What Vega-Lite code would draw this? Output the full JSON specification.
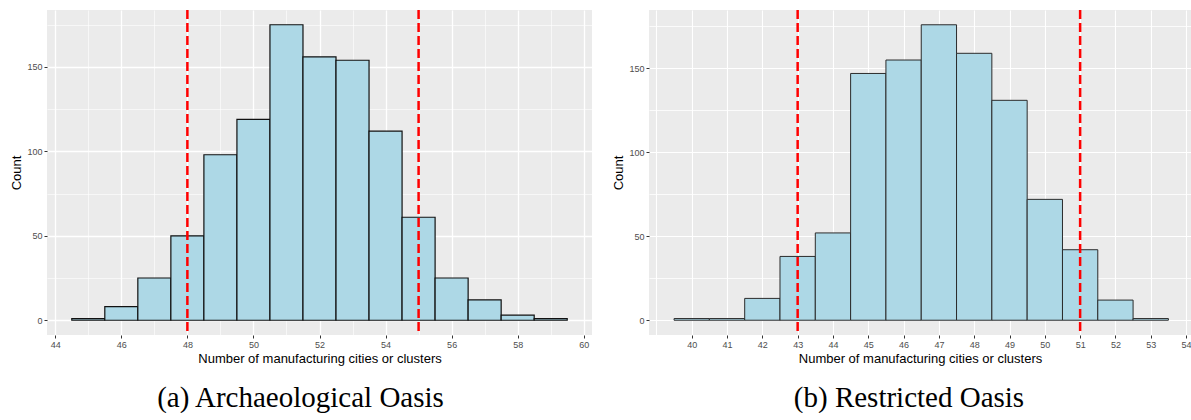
{
  "$schema": "https://vega.github.io/schema/vega-lite/v6.json",
  "background": "white",
  "padding": {"left": 10, "top": 8, "right": 0, "bottom": 0},
  "spacing": 20,
  "config": {
    "view": {"stroke": null, "fill": "#EBEBEB"},
    "axis": {
      "domain": false,
      "gridColor": "#FFFFFF",
      "tickColor": "#333333",
      "tickSize": 3,
      "labelColor": "#4D4D4D",
      "labelFont": "Liberation Sans",
      "labelFontSize": 9,
      "labelPadding": 2,
      "labelOverlap": false,
      "labelFlush": false,
      "titleFont": "Liberation Sans",
      "titleFontSize": 13,
      "titleFontWeight": "normal",
      "titleColor": "#000000"
    },
    "title": {"font": "Liberation Serif", "fontSize": 29, "fontWeight": "normal", "color": "#000000"}
  },
  "datasets": {
    "a": [
      {"lo": 44.5, "hi": 45.5, "count": 1},
      {"lo": 45.5, "hi": 46.5, "count": 8},
      {"lo": 46.5, "hi": 47.5, "count": 25},
      {"lo": 47.5, "hi": 48.5, "count": 50},
      {"lo": 48.5, "hi": 49.5, "count": 98},
      {"lo": 49.5, "hi": 50.5, "count": 119},
      {"lo": 50.5, "hi": 51.5, "count": 175},
      {"lo": 51.5, "hi": 52.5, "count": 156},
      {"lo": 52.5, "hi": 53.5, "count": 154},
      {"lo": 53.5, "hi": 54.5, "count": 112},
      {"lo": 54.5, "hi": 55.5, "count": 61},
      {"lo": 55.5, "hi": 56.5, "count": 25},
      {"lo": 56.5, "hi": 57.5, "count": 12},
      {"lo": 57.5, "hi": 58.5, "count": 3},
      {"lo": 58.5, "hi": 59.5, "count": 1}
    ],
    "b": [
      {"lo": 39.5, "hi": 40.5, "count": 1},
      {"lo": 40.5, "hi": 41.5, "count": 1},
      {"lo": 41.5, "hi": 42.5, "count": 13},
      {"lo": 42.5, "hi": 43.5, "count": 38},
      {"lo": 43.5, "hi": 44.5, "count": 52},
      {"lo": 44.5, "hi": 45.5, "count": 147},
      {"lo": 45.5, "hi": 46.5, "count": 155},
      {"lo": 46.5, "hi": 47.5, "count": 176},
      {"lo": 47.5, "hi": 48.5, "count": 159},
      {"lo": 48.5, "hi": 49.5, "count": 131},
      {"lo": 49.5, "hi": 50.5, "count": 72},
      {"lo": 50.5, "hi": 51.5, "count": 42},
      {"lo": 51.5, "hi": 52.5, "count": 12},
      {"lo": 52.5, "hi": 53.5, "count": 1}
    ],
    "ra": [{"v": 48}, {"v": 55}],
    "rb": [{"v": 43}, {"v": 51}]
  },
  "hconcat": [
    {
      "width": 545,
      "height": 325,
      "title": {"text": "(a) Archaeological Oasis", "orient": "bottom", "offset": 19, "frame": "group", "dx": -19},
      "layer": [
        {
          "data": {"name": "a"},
          "mark": {"type": "rect", "fill": "#ADD8E6", "stroke": "#111111", "strokeWidth": 1.2},
          "encoding": {
            "x": {
              "field": "lo", "type": "quantitative",
              "scale": {"domain": [43.75, 60.25], "nice": false, "zero": false},
              "axis": {
                "title": "Number of manufacturing cities or clusters",
                "titlePadding": 3,
                "format": "d",
                "labelOverlap": false,
                "tickCount": 100,
                "values": [44,45,46,47,48,49,50,51,52,53,54,55,56,57,58,59,60],
                "labelExpr": "datum.value % 2 === 0 ? datum.label : ' '",
                "gridWidth": {"condition": {"test": "datum.value % 2 === 0", "value": 1.3}, "value": 0.6},
                "tickOpacity": {"condition": {"test": "datum.value % 2 === 0", "value": 1}, "value": 0}
              }
            },
            "x2": {"field": "hi"},
            "y": {
              "field": "count", "type": "quantitative",
              "scale": {"domain": [-8.75, 183.75], "nice": false, "zero": false},
              "axis": {
                "title": "Count",
                "titlePadding": 3,
                "format": "d",
                "labelOverlap": false,
                "tickCount": 100,
                "values": [0,25,50,75,100,125,150,175],
                "labelExpr": "datum.value % 50 === 0 ? datum.label : ' '",
                "gridWidth": {"condition": {"test": "datum.value % 50 === 0", "value": 1.3}, "value": 0.6},
                "tickOpacity": {"condition": {"test": "datum.value % 50 === 0", "value": 1}, "value": 0}
              }
            },
            "y2": {"datum": 0}
          }
        },
        {
          "data": {"name": "ra"},
          "mark": {"type": "rule", "color": "#FF0000", "strokeWidth": 2.5, "strokeDash": [9, 4]},
          "encoding": {"x": {"field": "v", "type": "quantitative"}}
        }
      ]
    },
    {
      "width": 542,
      "height": 325,
      "title": {"text": "(b) Restricted Oasis", "orient": "bottom", "offset": 19, "frame": "group", "dx": -11},
      "layer": [
        {
          "data": {"name": "b"},
          "mark": {"type": "rect", "fill": "#ADD8E6", "stroke": "#2B2B2B", "strokeWidth": 1},
          "encoding": {
            "x": {
              "field": "lo", "type": "quantitative",
              "scale": {"domain": [38.79, 54.14], "nice": false, "zero": false},
              "axis": {
                "title": "Number of manufacturing cities or clusters",
                "titlePadding": 3,
                "format": "d",
                "labelOverlap": false,
                "tickCount": 100,
                "values": [39,39.5,40,40.5,41,41.5,42,42.5,43,43.5,44,44.5,45,45.5,46,46.5,47,47.5,48,48.5,49,49.5,50,50.5,51,51.5,52,52.5,53,53.5,54],
                "labelExpr": "datum.value % 1 === 0 && datum.value >= 40 ? datum.label : ' '",
                "gridWidth": {"condition": {"test": "datum.value % 1 === 0", "value": 1.1}, "value": 0.8},
                "tickOpacity": {"condition": {"test": "datum.value % 1 === 0 && datum.value >= 40", "value": 1}, "value": 0}
              }
            },
            "x2": {"field": "hi"},
            "y": {
              "field": "count", "type": "quantitative",
              "scale": {"domain": [-8.8, 184.8], "nice": false, "zero": false},
              "axis": {
                "title": "Count",
                "titlePadding": 3,
                "format": "d",
                "labelOverlap": false,
                "tickCount": 100,
                "values": [0,25,50,75,100,125,150,175],
                "labelExpr": "datum.value % 50 === 0 ? datum.label : ' '",
                "gridWidth": {"condition": {"test": "datum.value % 50 === 0", "value": 1.1}, "value": 0.8},
                "tickOpacity": {"condition": {"test": "datum.value % 50 === 0", "value": 1}, "value": 0}
              }
            },
            "y2": {"datum": 0}
          }
        },
        {
          "data": {"name": "rb"},
          "mark": {"type": "rule", "color": "#FF0000", "strokeWidth": 2.5, "strokeDash": [9, 4]},
          "encoding": {"x": {"field": "v", "type": "quantitative"}}
        }
      ]
    }
  ]
}
